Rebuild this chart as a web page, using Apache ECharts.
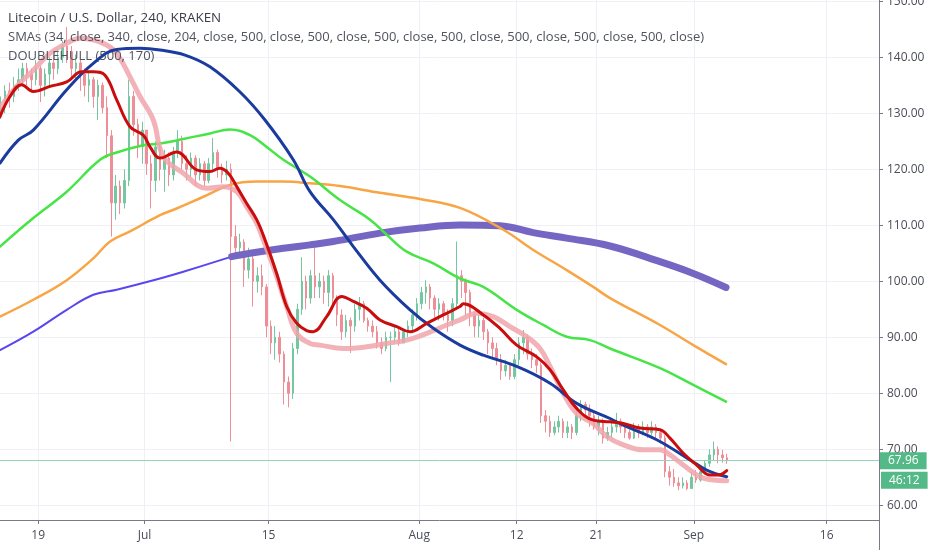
<!DOCTYPE html>
<html>
<head>
<meta charset="utf-8">
<title>LTC/USD 240 KRAKEN</title>
<script src="https://cdn.jsdelivr.net/npm/echarts@6/dist/echarts.min.js"></script>
<style>
  html, body { margin: 0; padding: 0; background: #fff; }
  #main { width: 932px; height: 550px; }
</style>
</head>
<body>
<div id="main"></div>
<script>
// x values are days counted from Jun 1 (so Jul 1 = 30, Sep 1 = 92)
// candles are 12h, the first one sits on day 13.75
var firstDay = 13.75;
var barStep = 0.5;
var firstOpen = 130;

var closes = [
  131, 134, 133, 135, 136, 138, 137, 136, 138, 135,
  137, 139, 138, 140, 142, 141, 138, 139, 137, 135,
  136, 133, 135, 131, 126, 114, 117, 114, 118, 133,
  128, 124, 127, 121, 118, 124, 120, 122, 119, 123,
  125, 121, 120, 122, 119, 121, 118, 121, 123, 120,
  119, 120, 108, 106, 107, 102, 104, 100, 101, 99,
  92, 89, 90, 87, 82, 80, 88, 95, 100, 97,
  101, 99, 100, 98, 101, 97, 94, 91, 93, 92,
  95, 96, 93, 92, 91, 89, 88, 90, 90, 91,
  89, 91, 92, 94, 96, 98, 99, 97, 95, 96,
  94, 93, 96, 101, 100, 98, 94, 92, 93, 91,
  89, 88, 86, 84, 85, 83, 86, 89, 90, 87,
  86, 85, 76, 75, 73, 74, 75, 73, 74, 73,
  76, 78, 77, 76, 74, 75, 72, 73, 74, 75,
  74, 73, 72, 74, 73, 74, 73, 74, 73, 72,
  66, 65, 64, 63.5, 64, 63, 65, 64.5, 66, 67.5,
  69, 70, 69, 68.5, 67.96
];
var highs = [
  133, 135, 135.5, 136.5, 138, 139, 139, 138, 139.5, 138.5,
  138, 140, 140.5, 141.5, 143, 145.4, 142, 140.5, 139.5, 138,
  137.5, 136.5, 136, 135.5, 133, 127, 119, 118, 120, 136,
  134, 129, 128.5, 127, 122.5, 125, 124.5, 123.5, 123, 124,
  127, 126, 122.5, 123, 122.5, 122, 121.5, 122, 125.6, 123.5,
  121, 121.5, 121, 110, 108.5, 107.5, 106, 105, 102.5, 103,
  99.5, 93, 92, 91, 87.5, 83, 89, 96, 104.3, 101,
  102, 106, 101.5, 101, 102, 101.5, 97.5, 95, 94, 93.5,
  96, 97.2, 96.5, 93.5, 93, 92, 90, 91, 91, 92,
  91.5, 91.5, 93, 95, 97, 99, 100.2, 99.5, 97.5, 97,
  96.5, 95, 97, 107.1, 102, 100.5, 98.5, 94.5, 94, 93.5,
  91.5, 90, 89, 87, 86, 85.5, 87, 90, 91.3, 90.5,
  88, 87, 85.5, 77, 76, 75, 76, 75.5, 75, 74.5,
  77, 78.8, 78.5, 78, 76.5, 76, 75.5, 74, 75, 76.5,
  75.5, 74.5, 73.5, 74.7, 74.5, 75, 74.5, 75, 74.5, 73.5,
  72.5, 67, 66.5, 65, 65, 64.5, 66, 66.3, 66.8, 68.1,
  70, 71.4, 70.5, 69.9, 69.2
];
var lows = [
  129, 130, 131, 132, 134, 135, 135, 134, 135, 132,
  133, 135, 136, 137, 139, 139, 136, 136, 134, 133,
  132, 131, 128.8, 130, 122, 108, 111, 112, 113, 117,
  126, 122, 121, 119, 113, 116, 118, 116, 117, 118,
  122, 120, 118, 118.5, 117, 118, 117, 117.5, 120, 118.5,
  117.5, 118, 71.4, 104, 104.5, 99, 100.5, 95.5, 98, 97.5,
  90, 87, 86, 85.5, 78, 77.5, 79, 87, 94, 95,
  96, 97, 97, 96, 95.5, 95, 92, 89.5, 90, 87.2,
  91, 93, 92.6, 91, 90, 88, 87, 87.5, 82, 89,
  88.5, 89, 90, 91.3, 93, 95, 96, 95, 93.5, 93,
  93, 91, 92, 95, 97, 94, 92, 90, 90, 89.5,
  87, 86.5, 85, 82.4, 83, 82.4, 82.5, 85, 87, 86,
  84.5, 83.6, 74.7, 73, 72.2, 72.5, 73, 72, 72, 71.8,
  72.5, 75, 75.5, 74, 73.5, 72.5, 71, 71.5, 72, 73,
  72.9, 72, 71.7, 71.8, 72, 72.5, 72, 72.5, 72, 71,
  65, 63.5, 63.3, 62.7, 63, 62.7, 62.9, 64, 64.2, 65.5,
  66.9, 68, 67.5, 67.6, 67.4
];

var lastPrice = 67.96;
var countdown = '46:12';

var dateTicks = [18, 30, 44, 61, 72, 81, 92, 107];
var dateLabels = ['19', 'Jul', '15', 'Aug', '12', '21', 'Sep', '16'];
var priceTicks = [60, 70, 80, 90, 100, 110, 120, 130, 140, 150];

// indicator lines, [day, price]
var hullFast = [
  [13.69, 129.4], [14.82, 133.0], [16.14, 135.1], [17.45, 133.9], [19.33, 134.8],
  [21.22, 135.6], [22.91, 137.4], [24.22, 137.4], [25.54, 136.8], [26.86, 132.4],
  [28.36, 127.6], [29.86, 126.1], [30.62, 124.0], [31.75, 122.0], [33.63, 123.1],
  [35.89, 119.9], [37.39, 119.6], [38.52, 120.2], [39.46, 119.3], [40.41, 116.9],
  [41.54, 113.9], [42.66, 111.0], [43.6, 107.4], [44.92, 101.4], [46.05, 95.5],
  [47.18, 92.5], [48.3, 91.2], [49.05, 91.0], [50.56, 93.7], [52.26, 97.3],
  [53.57, 96.4], [55.08, 95.2], [56.58, 93.1], [58.47, 91.9], [59.97, 91.0],
  [61.85, 92.5], [63.72, 94.0], [65.61, 95.5], [65.98, 96.0], [68.24, 94.0],
  [70.12, 91.6], [72.01, 88.6], [74.27, 86.5], [75.77, 84.2], [77.27, 80.6],
  [78.78, 77.3], [80.65, 75.2], [82.54, 74.9], [84.04, 74.6], [85.93, 73.8],
  [88.18, 73.5], [89.31, 72.0], [90.81, 69.3], [92.32, 67.2], [93.83, 65.4],
  [94.76, 65.4], [95.71, 66.2]
];
var hullSlow = [
  [13.69, 131.0], [15.58, 134.8], [17.45, 137.7], [19.33, 140.7], [21.22, 142.5],
  [22.72, 143.4], [24.22, 143.1], [25.73, 142.2], [26.86, 140.7], [28.36, 136.5],
  [29.49, 133.0], [30.99, 128.8], [32.12, 122.3], [34.38, 119.3], [37.02, 116.6],
  [38.89, 116.9], [40.41, 116.0], [41.54, 113.3], [42.66, 110.4], [43.41, 107.4],
  [44.54, 102.6], [46.05, 95.5], [47.18, 90.7], [48.68, 88.9], [49.81, 88.6],
  [52.44, 88.0], [55.08, 88.3], [57.34, 88.9], [59.59, 89.5], [61.85, 90.7],
  [64.11, 92.2], [65.61, 93.1], [67.49, 94.3], [69.37, 93.7], [71.25, 91.9],
  [73.14, 90.1], [74.64, 88.0], [75.77, 84.8], [77.27, 80.0], [78.78, 76.4],
  [80.65, 74.6], [82.17, 72.3], [84.04, 70.8], [86.3, 69.9], [88.18, 69.9],
  [89.31, 69.0], [90.81, 67.2], [92.7, 65.1], [94.2, 64.5], [95.71, 64.4]
];
var smaBlue = [
  [13.69, 121.1], [15.76, 125.2], [17.45, 127.0], [21.22, 134.2], [24.22, 138.9],
  [26.86, 141.4], [29.49, 141.6], [31.75, 141.3], [34.57, 140.4], [37.39, 138.3],
  [40.78, 133.8], [43.6, 128.8], [46.79, 121.7], [48.68, 116.0], [51.31, 111.0],
  [53.57, 106.2], [56.58, 100.2], [59.97, 94.9], [62.6, 91.6], [65.61, 88.6],
  [68.24, 86.8], [72.01, 84.8], [75.77, 81.8], [78.78, 78.2], [82.54, 75.5],
  [84.04, 74.3], [87.81, 71.7], [91.57, 68.1], [93.45, 66.3], [95.71, 65.1]
];
var smaGreen = [
  [13.69, 106.2], [17.45, 111.3], [21.22, 116.0], [24.98, 121.7], [26.86, 123.0],
  [29.86, 124.3], [31.75, 124.6], [34.38, 125.4], [37.39, 126.4], [39.65, 127.1],
  [41.91, 126.1], [43.79, 124.0], [45.67, 121.7], [48.68, 118.7], [52.07, 114.5],
  [55.45, 111.0], [57.34, 108.3], [59.59, 105.3], [62.6, 103.2], [65.61, 100.5],
  [68.24, 99.0], [72.01, 94.9], [75.01, 92.2], [77.65, 90.1], [80.28, 89.5],
  [82.54, 88.0], [88.18, 84.5], [91.94, 81.5], [95.63, 78.5]
];
var smaOrange = [
  [13.69, 93.7], [17.45, 96.7], [21.22, 100.2], [24.22, 104.1], [26.11, 107.1],
  [28.36, 108.9], [31.75, 111.8], [33.63, 113.0], [36.64, 115.1], [39.65, 117.2],
  [42.66, 117.8], [45.67, 117.8], [48.68, 117.5], [52.07, 117.0], [56.58, 115.8],
  [61.09, 114.7], [65.61, 113.1], [70.5, 109.2], [73.88, 105.6], [77.65, 102.0],
  [80.65, 99.0], [82.54, 97.0], [88.18, 92.2], [91.94, 88.6], [95.63, 85.2]
];
var smaViolet = [
  [13.69, 87.7], [17.45, 91.0], [21.22, 94.9], [24.22, 97.6], [26.86, 98.5],
  [31.75, 100.5], [34.38, 101.7], [39.84, 104.4]
];
var sma500 = [
  [39.84, 104.4], [41.91, 105.0], [45.67, 105.9], [48.68, 106.5], [51.31, 107.1],
  [56.58, 108.6], [61.09, 109.5], [65.61, 110.05], [70.12, 109.9], [73.88, 108.7],
  [77.65, 107.7], [82.54, 106.3], [88.18, 103.5], [91.94, 101.4], [95.63, 98.9]
];

var font = '"Open Sans", "DejaVu Sans", sans-serif';
var axisColor = '#787b86';
var textColor = '#4a4d57';
var gridColor = '#eef0f5';

var candles = closes.map(function (c, i) {
  var open = i === 0 ? firstOpen : closes[i - 1];
  return [firstDay + i * barStep, open, c, lows[i], highs[i]];
});

function lineSeries(name, data, color, width, z, opacity) {
  return {
    name: name,
    type: 'line',
    data: data,
    symbol: 'none',
    smooth: 0.4,
    silent: true,
    z: z,
    lineStyle: { color: color, width: width, opacity: opacity == null ? 1 : opacity, cap: 'round', join: 'round' }
  };
}

var chart = echarts.init(document.getElementById('main'));

chart.setOption({
  animation: false,
  backgroundColor: '#ffffff',
  title: [
    { text: 'Litecoin / U.S. Dollar, 240, KRAKEN', left: 8, top: 12, padding: 0,
      textStyle: { fontSize: 13.4, fontWeight: 'normal', color: '#3b3e48', fontFamily: font } },
    { text: 'SMAs (34, close, 340, close, 204, close, 500, close, 500, close, 500, close, 500, close, 500, close, 500, close, 500, close)',
      left: 8, top: 31, padding: 0,
      textStyle: { fontSize: 13, fontWeight: 'normal', color: '#50535e', fontFamily: font } },
    { text: 'DOUBLEHULL (500, 170)', left: 8, top: 50, padding: 0,
      textStyle: { fontSize: 13, fontWeight: 'normal', color: '#50535e', fontFamily: font } }
  ],
  grid: { left: 0, right: 53, top: 0, bottom: 30, outerBoundsMode: 'none' },
  xAxis: {
    type: 'value',
    min: 13.69,
    max: 112.9,
    axisLine: { show: true, onZero: false, lineStyle: { color: axisColor } },
    axisTick: { show: true, length: 4, customValues: dateTicks, lineStyle: { color: axisColor } },
    axisLabel: {
      customValues: dateTicks,
      formatter: function (v) { return dateLabels[dateTicks.indexOf(v)] || ''; },
      color: textColor, fontSize: 12, margin: 10, fontFamily: font
    },
    splitLine: { show: true, lineStyle: { color: gridColor } }
  },
  yAxis: {
    type: 'value',
    position: 'right',
    min: 57.375,
    max: 150.23,
    axisLine: { show: true, lineStyle: { color: axisColor } },
    axisTick: { show: true, length: 4, customValues: priceTicks, lineStyle: { color: axisColor } },
    axisLabel: {
      customValues: priceTicks,
      formatter: function (v) { return v.toFixed(2); },
      color: textColor, fontSize: 12, margin: 8, fontFamily: font
    },
    splitLine: { show: true, lineStyle: { color: gridColor } }
  },
  series: [
    {
      name: 'LTCUSD',
      type: 'candlestick',
      data: candles,
      barWidth: 2,
      z: 2,
      silent: true,
      itemStyle: {
        color: '#74c7a0', color0: '#ee8f98',
        borderColor: '#74c7a0', borderColor0: '#ee8f98', borderWidth: 1
      },
      markLine: {
        silent: true,
        symbol: ['none', 'none'],
        lineStyle: { color: '#93d5bb', width: 1, type: 'solid' },
        label: {
          position: 'end', distance: 1,
          formatter: lastPrice.toFixed(2),
          backgroundColor: '#53b987', color: '#ffffff',
          padding: [3, 8, 2, 8], fontSize: 12, fontFamily: font
        },
        data: [{ yAxis: lastPrice }]
      }
    },
    lineSeries('SMA violet', smaViolet, '#5847ee', 2, 3),
    lineSeries('SMA 500', sma500, '#7466c2', 7, 3),
    lineSeries('SMA orange', smaOrange, '#f8a546', 2.5, 4),
    lineSeries('SMA green', smaGreen, '#46e446', 2.5, 4),
    lineSeries('Hull slow', hullSlow, '#f0a4ab', 5, 5, 0.85),
    lineSeries('SMA blue', smaBlue, '#1b3c9e', 3, 6),
    lineSeries('Hull fast', hullFast, '#c90d0d', 3, 7)
  ]
});

// countdown box under the last price tag, and the price scale border under the time axis
var py = chart.convertToPixel({ yAxisIndex: 0 }, lastPrice);
var axisX = chart.convertToPixel({ xAxisIndex: 0 }, 112.9);
chart.setOption({
  graphic: [
    {
      type: 'text', x: axisX + 2, y: py + 11, z: 20,
      style: {
        text: countdown, fill: '#ffffff', backgroundColor: '#53b987',
        padding: [3, 8, 2, 8], font: '12px ' + font
      }
    },
    {
      type: 'line', z: 20,
      shape: { x1: axisX + 0.5, y1: 520, x2: axisX + 0.5, y2: 550 },
      style: { stroke: axisColor, lineWidth: 1 }
    }
  ]
});
</script>
</body>
</html>
